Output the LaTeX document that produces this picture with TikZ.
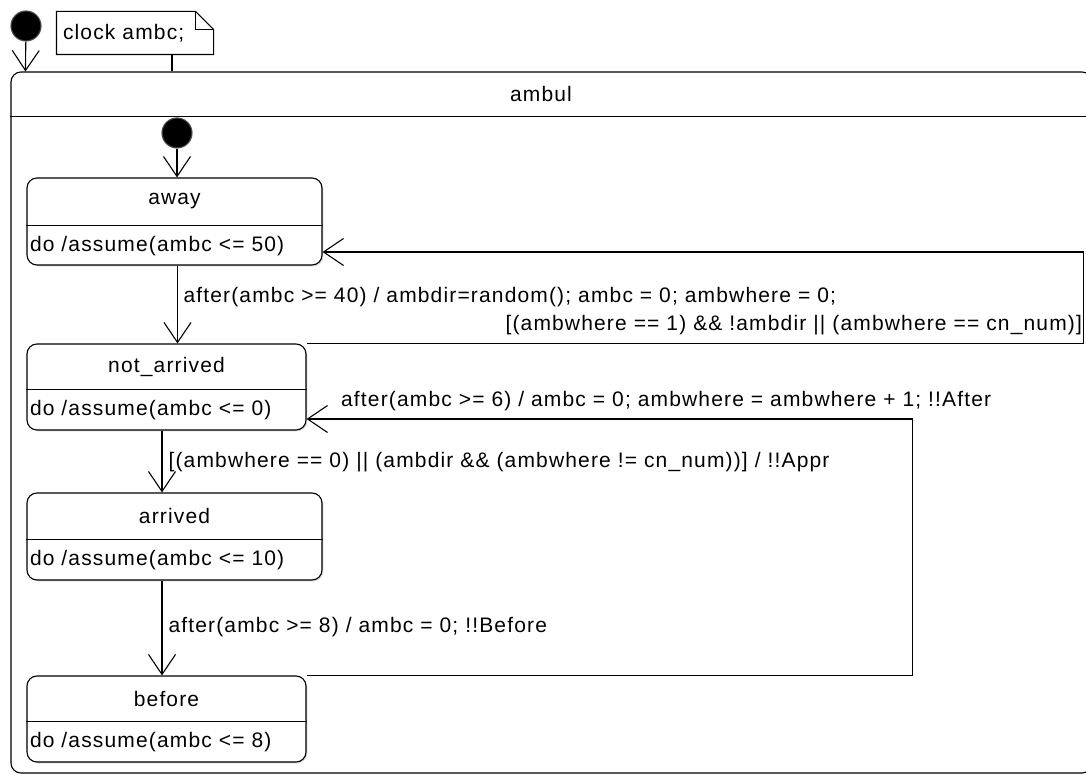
\documentclass[tikz,border=0pt]{standalone}
\usepackage{fontspec}
\setmainfont{Liberation Sans}[LetterSpace=5.5]
\usetikzlibrary{positioning,arrows.meta,shadows}
\tikzset{
    initial/.style={circle, fill=black, draw=black!70, minimum size=30pt, inner sep=0pt},
    notebox/.style={fill=white, minimum width=156pt, minimum height=42pt, text width=144pt, inner xsep=6pt, inner ysep=0pt, align=left},
    superbox/.style={draw, rounded corners=10pt},
    statebox/.style={draw, rounded corners=10pt, fill=white, drop shadow={shadow xshift=1.3pt, shadow yshift=-1.3pt, opacity=0.3}},
    statename/.style={inner sep=0pt},
    stateaction/.style={inner xsep=3pt, inner ysep=0pt, minimum height=40pt},
    trlabel/.style={inner sep=0pt},
    transition/.style={draw, -{Straight Barb[length=20pt, width=27pt]}}
}

\begin{document}
\begin{tikzpicture}[x=1pt, y=1pt, font=\fontsize{21}{25}\selectfont, line width=1.1pt]
    \useasboundingbox[fill=white] (0,0) rectangle (1086,775);

    % outer level: declaration note and the ambul superstate
    \node[initial] (init) at (26,749) {};
    \node[notebox] (decl) at (135,742) {clock ambc;};
    \draw (decl.south west) -- (decl.north west) -- ([xshift=-18pt]decl.north east) -- ([yshift=-18pt]decl.north east) -- (decl.south east) -- cycle;
    \draw ([xshift=-18pt]decl.north east) |- ([yshift=-18pt]decl.north east);

    \node[superbox, minimum width=1081pt, minimum height=701pt] (ambul) at (551.5,352.5) {};
    \node[statename] (ambulname) at (541,681) {ambul};
    \draw ([yshift=-45pt]ambul.north west) -- ([yshift=-45pt]ambul.north east);
    \draw[transition] (init) -- ([xshift=15pt]ambul.north west);
    \draw ([xshift=37pt]decl.south) -- ([xshift=37pt]decl.south |- ambul.north);

    % states inside ambul
    \node[initial] (start) at (177,642) {};

    \node[statebox, minimum width=295pt, minimum height=87pt] (away) at (174.5,553.5) {};
    \node[statename, minimum height=47pt, below=0pt of away.north] (awayname) {away};
    \draw (away.west |- awayname.south) -- (away.east |- awayname.south);
    \node[stateaction, anchor=north west] (awayact) at (away.west |- awayname.south) {do /assume(ambc <= 50)};

    \node[statebox, minimum width=279pt, minimum height=86pt] (notarr) at (166.5,388) {};
    \node[statename, minimum height=45pt, below=0pt of notarr.north] (notarrname) {not\_arrived};
    \draw (notarr.west |- notarrname.south) -- (notarr.east |- notarrname.south);
    \node[stateaction, anchor=north west] (notarract) at (notarr.west |- notarrname.south) {do /assume(ambc <= 0)};

    \node[statebox, minimum width=295pt, minimum height=87pt] (arrived) at (174.5,238.5) {};
    \node[statename, minimum height=46pt, below=0pt of arrived.north] (arrivedname) {arrived};
    \draw (arrived.west |- arrivedname.south) -- (arrived.east |- arrivedname.south);
    \node[stateaction, anchor=north west] (arrivedact) at (arrived.west |- arrivedname.south) {do /assume(ambc <= 10)};

    \node[statebox, minimum width=279pt, minimum height=86pt] (before) at (166.5,56) {};
    \node[statename, minimum height=45pt, below=0pt of before.north] (beforename) {before};
    \draw (before.west |- beforename.south) -- (before.east |- beforename.south);
    \node[stateaction, anchor=north west] (beforeact) at (before.west |- beforename.south) {do /assume(ambc <= 8)};

    % transitions
    \draw[transition] (start) -- (start |- away.north);
    \draw[transition] ([xshift=3pt]away.south) -- ([xshift=3pt]away.south |- notarr.north)
        node[trlabel, pos=0.48, anchor=base west, xshift=5.5pt] (golbl) {after(ambc >= 40) / ambdir=random(); ambc = 0; ambwhere = 0;};
    \draw[transition] (notarr.north east) -- ++(777,0)
        node[trlabel, pos=1, anchor=base east, xshift=-1pt, yshift=13pt] (backlbl) {[(ambwhere == 1) \&\& !ambdir || (ambwhere == cn\_num)]}
        |- ([yshift=-30.5pt]away.east);
    \draw[transition] ([xshift=-4.5pt]notarr.south) -- ([xshift=-4.5pt]notarr.south |- arrived.north)
        node[trlabel, pos=0.6, anchor=base west, xshift=6pt] (apprlbl) {[(ambwhere == 0) || (ambdir \&\& (ambwhere != cn\_num))] / !!Appr};
    \draw[transition] ([xshift=-12.5pt]arrived.south) -- ([xshift=-12.5pt]arrived.south |- before.north)
        node[trlabel, pos=0.55, anchor=base west, xshift=6pt] (beforelbl) {after(ambc >= 8) / ambc = 0; !!Before};
    \draw[transition] (before.north east) -- ++(606,0) |- ([yshift=-32pt]notarr.east)
        node[trlabel, pos=1, anchor=base west, xshift=34pt, yshift=12pt] (afterlbl) {after(ambc >= 6) / ambc = 0; ambwhere = ambwhere + 1; !!After};
\end{tikzpicture}
\end{document}
